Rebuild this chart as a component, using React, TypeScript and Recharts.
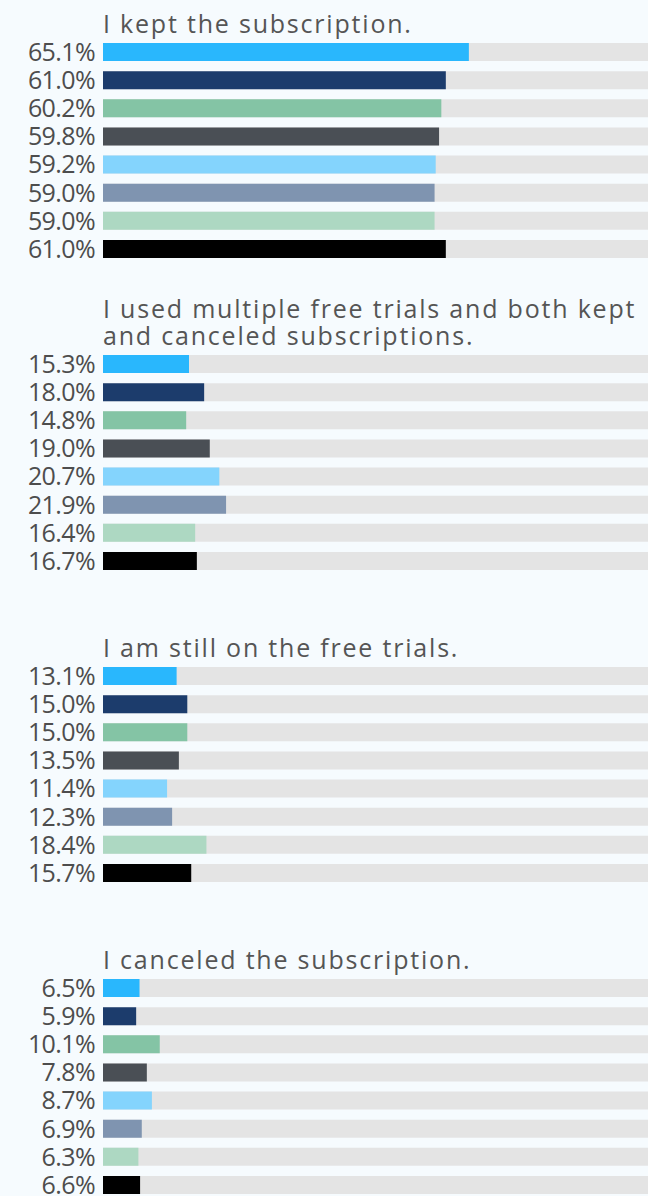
import React from 'react';
import { BarChart, Bar, XAxis, YAxis, Cell } from 'recharts';

const segments = ['Segment 1', 'Segment 2', 'Segment 3', 'Segment 4', 'Segment 5', 'Segment 6', 'Segment 7', 'Segment 8'];
const segmentColors = ['#29b7fd', '#1c3c6c', '#84c4a5', '#4a4f55', '#84d4fd', '#7f94b0', '#add8c2', '#000000'];

const questions = [
  ['I kept the subscription.'],
  ['I used multiple free trials and both kept', 'and canceled subscriptions.'],
  ['I am still on the free trials.'],
  ['I canceled the subscription.'],
];

const keptValues = [65.1, 61.0, 60.2, 59.8, 59.2, 59.0, 59.0, 61.0];
const multipleValues = [15.3, 18.0, 14.8, 19.0, 20.7, 21.9, 16.4, 16.7];
const stillTrialValues = [13.1, 15.0, 15.0, 13.5, 11.4, 12.3, 18.4, 15.7];
const canceledValues = [6.5, 5.9, 10.1, 7.8, 8.7, 6.9, 6.3, 6.6];

const groupValues = [keptValues, multipleValues, stillTrialValues, canceledValues];

const BLOCK = 312;
const FONT = '"Open Sans", sans-serif';

function Group({ values, index }: { values: number[]; index: number }) {
  const data = segments.map((name, i) => ({ name, value: values[i] }));
  return (
    <div style={{ position: 'absolute', left: 0, top: index * BLOCK, width: 665, height: BLOCK }}>
      <BarChart
        layout="vertical"
        width={665}
        height={BLOCK}
        data={data}
        margin={{ top: 38, right: 0, bottom: 49, left: 0 }}
      >
        <XAxis type="number" domain={[0, 100]} hide />
        <YAxis
          type="category"
          dataKey="name"
          width={103}
          axisLine={false}
          tickLine={false}
          interval={0}
          tickFormatter={(_v: string, i: number) => values[i].toFixed(1) + '%'}
          tick={{ fill: '#4d4d4d', fontSize: 25, fontFamily: FONT, letterSpacing: -0.6 }}
        />
        <Bar dataKey="value" barSize={18} background={{ fill: '#e4e4e4' }} isAnimationActive={false}>
          {data.map((d, i) => (
            <Cell key={d.name} fill={segmentColors[i]} />
          ))}
        </Bar>
      </BarChart>
    </div>
  );
}

export default function App() {
  return (
    <div
      style={{
        position: 'absolute',
        left: 0,
        top: 0,
        width: 648,
        height: 1196,
        overflow: 'hidden',
        background: '#f6fbfe',
      }}
    >
      {groupValues.map((vals, i) => (
        <Group key={i} values={vals} index={i} />
      ))}
      {questions.map((lines, i) => (
        <div
          key={'t' + i}
          style={{
            position: 'absolute',
            left: 103,
            top: i * BLOCK + 37,
            transform: 'translateY(-100%)',
            fontFamily: FONT,
            fontSize: 25,
            lineHeight: '27px',
            letterSpacing: 1.8,
            color: '#555555',
            whiteSpace: 'nowrap',
          }}
        >
          {lines.map((l, j) => (
            <div key={j}>{l}</div>
          ))}
        </div>
      ))}
    </div>
  );
}
